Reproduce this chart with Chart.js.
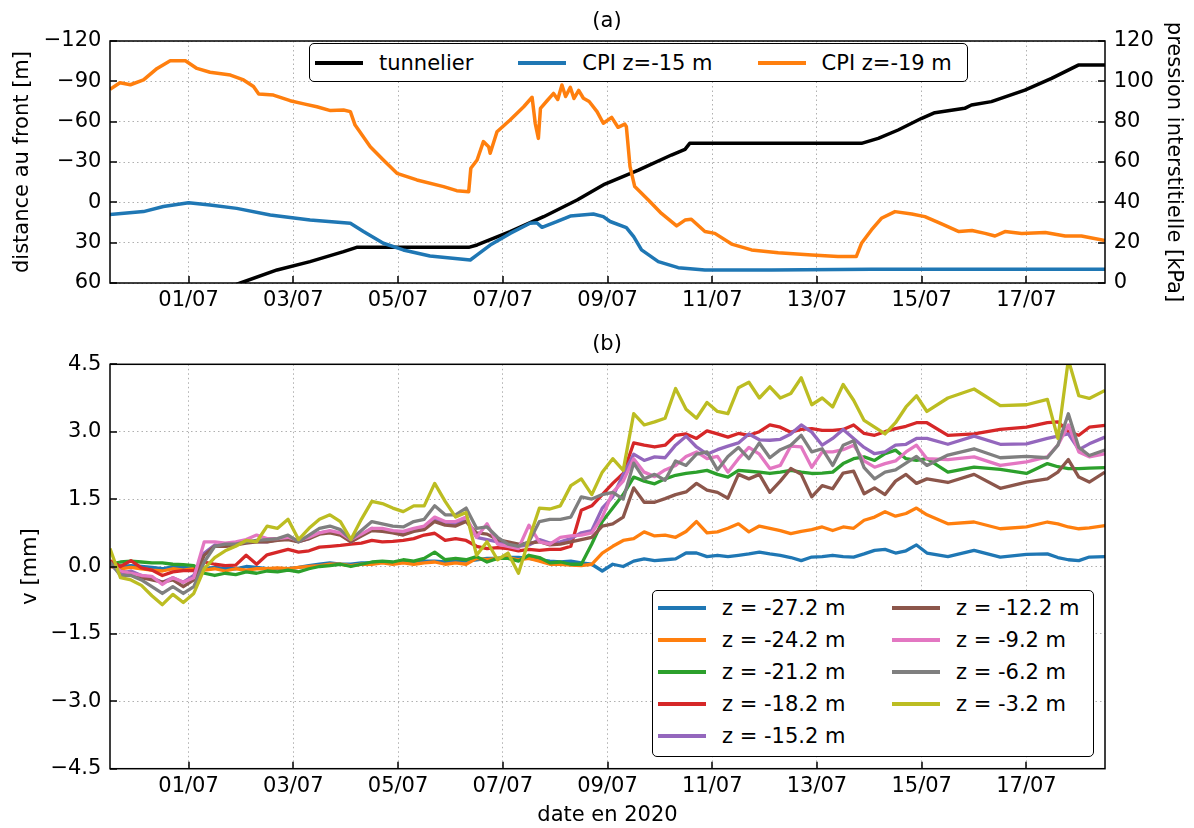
<!DOCTYPE html>
<html lang="fr">
<head>
<meta charset="utf-8">
<title>Tunnelier, CPI et inclinomètre</title>
<script src="https://cdn.jsdelivr.net/npm/chart.js@4.4.0/dist/chart.umd.min.js"></script>
<style>
  body { margin: 0; background: #fff; font-family: "DejaVu Sans", sans-serif; }
  #page { position: relative; width: 1194px; height: 828px; overflow: hidden; }
  canvas { position: absolute; left: 0; }
  #chartA { top: 0; }
  #chartB { top: 330px; }
  .titre { position: absolute; width: 200px; left: 507px; text-align: center; font-size: 21px; line-height: 25px; }
  .leg { position: absolute; background: #fff; border: 1.5px solid #000; border-radius: 5px; box-sizing: border-box; font-size: 21px; color: #000; }
  #legA { left: 309px; top: 43px; width: 659px; height: 39px; display: flex; align-items: center; padding-left: 5px; gap: 45px; }
  #legB { left: 652px; top: 590px; width: 442px; height: 167px; display: grid; grid-template-columns: 234px auto; grid-template-rows: repeat(5, 32px); grid-auto-flow: column; padding: 1px 0 0 5px; }
  .item { display: flex; align-items: center; white-space: nowrap; }
  .trait { display: inline-block; width: 48px; height: 4px; margin-right: 16px; }
</style>
</head>
<body>
<div id="page">
  <canvas id="chartA" width="1194" height="330"></canvas>
  <canvas id="chartB" width="1194" height="498"></canvas>
  <div class="titre" style="top:8px">(a)</div>
  <div class="titre" style="top:331px">(b)</div>
  <div class="leg" id="legA"></div>
  <div class="leg" id="legB"></div>
</div>
<script>
// jours comptés depuis le 01/07/2020 00:00
const dateTicks = [0, 2, 4, 6, 8, 10, 12, 14, 16];
const dateLabels = ["01/07", "03/07", "05/07", "07/07", "09/07", "11/07", "13/07", "15/07", "17/07"];

// ================= (a) tunnelier + CPI
const tTunnel = [0.5, 0.99, 1.69, 2.32, 2.96, 3.21, 5.35, 5.51, 6.14, 6.78, 7.42, 7.95, 8.59, 9.22, 9.48, 9.57, 12.85, 13.17, 13.55, 14.0, 14.25, 14.82, 14.95, 15.33, 15.97, 16.48, 16.99, 17.5];
const distTunnel = [67, 60, 50.3, 44.1, 36.7, 33.5, 33.5, 31.7, 21.8, 10.7, -1.7, -13.6, -24.0, -35.2, -39.4, -43.9, -43.9, -47.6, -53.8, -62.5, -66.7, -69.9, -72.4, -74.9, -83.5, -92.2, -102.1, -102.1];

const tCpi15 = [-1.5, -0.86, -0.48, 0, 0.41, 0.92, 1.56, 2.32, 3.09, 3.34, 3.72, 4.1, 4.61, 5.38, 5.51, 5.76, 6.14, 6.52, 6.65, 6.75, 7.03, 7.29, 7.73, 7.92, 8.05, 8.36, 8.5, 8.65, 8.97, 9.35, 9.86, 11.13, 13.04, 17.5];
const cpi15 = [34.0, 35.4, 37.9, 39.8, 38.7, 37.0, 33.7, 31.2, 29.6, 25.5, 19.7, 16.4, 13.4, 11.4, 13.9, 18.8, 24.6, 29.6, 29.9, 27.6, 30.4, 33.2, 34.2, 32.9, 30.5, 27.5, 23.0, 16.4, 10.6, 7.6, 6.4, 6.4, 6.8, 6.8];

const tCpi19 = [-1.5, -1.31, -1.11, -0.86, -0.6, -0.35, -0.06, 0.16, 0.41, 0.8, 1.05, 1.24, 1.34, 1.62, 1.94, 2.2, 2.45, 2.71, 2.96, 3.09, 3.18, 3.47, 3.72, 3.98, 4.36, 4.87, 5.12, 5.35, 5.39, 5.51, 5.63, 5.73, 5.76, 5.89, 6.14, 6.4, 6.56, 6.62, 6.68, 6.72, 6.85, 6.97, 7.05, 7.13, 7.2, 7.29, 7.36, 7.45, 7.54, 7.65, 7.8, 7.92, 8.08, 8.2, 8.33, 8.36, 8.43, 8.52, 8.78, 9.03, 9.32, 9.48, 9.6, 9.86, 10.05, 10.37, 10.75, 11.26, 11.9, 12.4, 12.75, 12.85, 13.04, 13.23, 13.49, 13.81, 14.06, 14.38, 14.71, 14.96, 15.21, 15.4, 15.59, 15.91, 16.36, 16.74, 17.05, 17.5];
const cpi19 = [96.0, 99.3, 98.3, 100.7, 106.4, 110.2, 110.2, 106.4, 104.5, 103.1, 100.7, 97.4, 93.7, 93.2, 90.4, 88.8, 87.4, 85.5, 85.8, 85.0, 78.3, 67.6, 61.0, 54.4, 51.1, 47.8, 45.8, 45.3, 56.9, 61.0, 70.1, 67.6, 64.3, 75.0, 80.8, 87.4, 92.1, 79.2, 71.7, 86.6, 90.5, 94.0, 91.0, 98.2, 92.5, 97.0, 91.5, 95.5, 91.6, 90.0, 85.0, 79.2, 82.1, 77.2, 78.8, 77.5, 57.7, 47.8, 41.2, 34.5, 28.3, 31.2, 31.6, 25.5, 24.6, 19.3, 16.4, 15.0, 13.9, 13.1, 13.1, 19.7, 26.3, 32.1, 35.4, 34.2, 32.9, 29.3, 25.5, 26.0, 24.6, 23.3, 25.5, 24.6, 25.0, 23.3, 23.3, 21.0];

const labelsA = ["tunnelier", "CPI z=-15 m", "CPI z=-19 m"];
const colorsA = ["#000000", "#1f77b4", "#ff7f0e"];

// ================= (b) inclinomètre
const tIncl = [-1.5, -1.3, -1.1, -0.9, -0.7, -0.5, -0.3, -0.1, 0.1, 0.3, 0.5, 0.7, 0.9, 1.1, 1.3, 1.5, 1.7, 1.9, 2.1, 2.3, 2.5, 2.7, 2.9, 3.1, 3.3, 3.5, 3.7, 3.9, 4.1, 4.3, 4.5, 4.7, 4.9, 5.1, 5.3, 5.5, 5.7, 5.9, 6.1, 6.3, 6.5, 6.7, 6.9, 7.1, 7.3, 7.5, 7.7, 7.9,
  8.1, 8.3, 8.5, 8.7, 8.9, 9.1, 9.3, 9.5, 9.7, 9.9, 10.1, 10.3, 10.5, 10.7, 10.9, 11.1, 11.3, 11.5, 11.7, 11.9, 12.1, 12.3, 12.5, 12.7, 12.9, 13.1, 13.3, 13.5, 13.7, 13.9, 14.1,
  14.5, 15.0, 15.5, 16.0, 16.4, 16.6, 16.8, 17.0, 17.2, 17.5];

const vZ272 = [0.05, 0.00, 0.02, 0.00, -0.02, -0.05, 0.00, -0.02, -0.05, -0.05, -0.02, -0.05, -0.05, 0.00, -0.02, -0.05, -0.05, -0.05, -0.02, 0.02, 0.05, 0.08, 0.05, 0.05, 0.08, 0.08, 0.10, 0.08, 0.10, 0.10, 0.12, 0.12, 0.10, 0.12, 0.12, 0.15, 0.18, 0.18, 0.20, 0.20, 0.18, 0.15, 0.12, 0.10, 0.12, 0.08, 0.05, -0.10,
  0.05, 0.00, 0.12, 0.17, 0.13, 0.15, 0.17, 0.30, 0.30, 0.22, 0.25, 0.22, 0.25, 0.28, 0.32, 0.28, 0.25, 0.20, 0.13, 0.21, 0.22, 0.25, 0.22, 0.21, 0.28, 0.36, 0.38, 0.30, 0.35, 0.48, 0.30,
  0.22, 0.36, 0.21, 0.27, 0.28, 0.20, 0.15, 0.13, 0.21, 0.22];
const vZ242 = [0.00, -0.05, -0.02, -0.05, -0.08, -0.10, -0.05, -0.08, -0.05, -0.08, -0.05, -0.10, -0.05, -0.08, -0.05, -0.05, -0.03, -0.05, -0.02, 0.00, 0.02, 0.05, 0.05, 0.02, 0.05, 0.05, 0.08, 0.05, 0.08, 0.05, 0.08, 0.10, 0.05, 0.08, 0.05, 0.18, 0.15, 0.18, 0.20, 0.15, 0.18, 0.12, 0.05, 0.05, 0.03, 0.02, 0.05, 0.30,
  0.45, 0.58, 0.62, 0.77, 0.68, 0.70, 0.65, 0.78, 1.00, 0.75, 0.77, 0.85, 0.95, 0.77, 0.90, 0.85, 0.80, 0.73, 0.78, 0.82, 0.88, 0.80, 0.88, 0.85, 1.03, 1.10, 1.22, 1.12, 1.18, 1.30, 1.15,
  0.95, 0.99, 0.84, 0.88, 0.99, 0.95, 0.88, 0.84, 0.86, 0.91];
const vZ212 = [0.05, 0.10, 0.12, 0.10, 0.08, 0.08, 0.05, 0.04, 0.02, -0.15, -0.20, -0.15, -0.18, -0.12, -0.15, -0.10, -0.12, -0.08, -0.12, -0.05, 0.00, 0.02, 0.05, 0.00, 0.05, 0.10, 0.12, 0.10, 0.15, 0.12, 0.18, 0.32, 0.15, 0.18, 0.15, 0.22, 0.10, 0.18, 0.18, 0.12, 0.25, 0.20, 0.08, 0.10, 0.05, 0.05, 0.50, 1.00,
  1.30, 1.60, 1.99, 1.90, 1.84, 1.95, 2.03, 2.07, 2.10, 2.14, 2.05, 1.99, 2.14, 2.12, 2.10, 2.07, 2.10, 2.14, 2.10, 2.07, 2.08, 2.10, 2.29, 2.40, 2.44, 2.36, 2.51, 2.59, 2.40, 2.36, 2.40,
  2.10, 2.21, 2.16, 2.07, 2.29, 2.22, 2.18, 2.18, 2.19, 2.20];
const vZ182 = [0.13, 0.00, 0.13, -0.03, -0.08, -0.20, -0.12, -0.09, -0.09, 0.10, 0.05, 0.02, 0.03, 0.25, 0.05, 0.26, 0.32, 0.38, 0.32, 0.35, 0.43, 0.45, 0.47, 0.50, 0.52, 0.58, 0.55, 0.56, 0.58, 0.62, 0.70, 0.74, 0.58, 0.62, 0.58, 0.45, 0.40, 0.42, 0.40, 0.35, 0.38, 0.36, 0.38, 0.38, 0.45, 1.25, 1.35, 1.60,
  1.85, 2.07, 2.75, 2.70, 2.66, 2.70, 2.92, 2.95, 2.85, 3.02, 2.95, 2.88, 2.96, 2.92, 3.00, 3.15, 3.10, 2.99, 3.05, 3.07, 3.03, 3.03, 3.05, 3.15, 2.96, 2.92, 3.00, 3.07, 3.12, 3.20, 3.20,
  2.92, 2.95, 3.05, 3.10, 3.20, 3.22, 3.00, 2.92, 3.10, 3.14];
const vZ152 = [0.05, -0.15, -0.10, -0.20, -0.25, -0.35, -0.25, -0.35, -0.20, 0.30, 0.48, 0.45, 0.50, 0.55, 0.55, 0.55, 0.60, 0.62, 0.55, 0.62, 0.75, 0.78, 0.72, 0.55, 0.70, 0.85, 0.80, 0.78, 0.72, 0.80, 0.85, 1.05, 0.95, 0.95, 1.05, 0.65, 0.60, 0.55, 0.50, 0.45, 0.48, 0.60, 0.52, 0.55, 0.62, 0.75, 0.80, 1.30,
  1.55, 2.05, 2.50, 2.36, 2.44, 2.42, 2.70, 2.90, 2.66, 2.50, 2.60, 2.68, 2.75, 2.95, 2.82, 2.81, 2.83, 2.95, 3.15, 2.99, 2.70, 2.85, 3.05, 2.85, 2.65, 2.51, 2.55, 2.70, 2.72, 2.85, 2.85,
  2.72, 2.90, 2.72, 2.73, 2.85, 2.90, 2.95, 2.60, 2.73, 2.88];
const vZ122 = [0.05, -0.10, -0.15, -0.25, -0.30, -0.35, -0.30, -0.45, -0.30, 0.25, 0.45, 0.45, 0.48, 0.52, 0.55, 0.55, 0.58, 0.60, 0.55, 0.62, 0.72, 0.75, 0.70, 0.55, 0.68, 0.80, 0.78, 0.75, 0.70, 0.78, 0.82, 1.00, 0.92, 0.90, 1.00, 0.75, 0.72, 0.60, 0.55, 0.50, 0.52, 0.55, 0.48, 0.50, 0.55, 0.60, 0.65, 0.90,
  0.95, 1.10, 1.75, 1.43, 1.43, 1.51, 1.60, 1.66, 1.85, 1.70, 1.65, 1.52, 2.05, 1.95, 2.05, 1.65, 1.90, 2.18, 2.05, 1.55, 1.80, 1.73, 2.08, 2.12, 1.62, 1.75, 1.60, 1.90, 2.05, 1.85, 1.95,
  1.87, 2.05, 1.74, 1.88, 1.95, 2.10, 2.38, 1.99, 1.88, 2.10];
const vZ92 = [0.05, -0.10, -0.15, -0.20, -0.22, -0.40, -0.25, -0.35, -0.25, 0.55, 0.55, 0.52, 0.55, 0.60, 0.70, 0.62, 0.62, 0.65, 0.58, 0.65, 0.75, 0.80, 0.75, 0.60, 0.72, 0.85, 0.85, 0.80, 0.78, 0.85, 0.90, 1.10, 1.00, 1.00, 1.10, 0.65, 0.95, 0.50, 0.45, 0.40, 0.92, 0.55, 0.50, 0.65, 0.68, 0.70, 0.75, 1.10,
  1.65, 1.90, 2.40, 2.10, 2.00, 2.15, 2.25, 2.45, 2.55, 2.40, 2.45, 2.10, 2.40, 2.65, 2.50, 2.18, 2.25, 2.68, 2.66, 2.21, 2.55, 2.55, 2.60, 2.70, 2.35, 2.21, 2.29, 2.35, 2.55, 2.70, 2.40,
  2.38, 2.44, 2.25, 2.33, 2.44, 2.70, 3.15, 2.55, 2.44, 2.51];
const vZ62 = [0.10, -0.20, -0.20, -0.30, -0.45, -0.60, -0.45, -0.60, -0.45, 0.10, 0.45, 0.50, 0.50, 0.55, 0.58, 0.60, 0.62, 0.70, 0.55, 0.70, 0.85, 0.90, 0.82, 0.60, 0.80, 1.00, 0.95, 0.90, 0.88, 1.00, 1.05, 1.35, 1.15, 1.15, 1.30, 0.85, 0.88, 0.65, 0.50, 0.45, 0.55, 1.00, 1.05, 1.05, 1.10, 1.55, 1.50, 1.60,
  1.65, 1.50, 2.30, 1.95, 2.05, 1.92, 2.35, 2.25, 2.50, 2.55, 2.15, 2.45, 2.65, 2.40, 2.75, 2.42, 2.60, 2.70, 2.92, 2.55, 2.62, 2.25, 2.70, 2.80, 2.20, 1.95, 2.10, 2.15, 2.30, 2.45, 2.25,
  2.48, 2.62, 2.42, 2.45, 2.42, 2.70, 3.40, 2.65, 2.47, 2.59];
const vZ32 = [0.40, -0.25, -0.30, -0.42, -0.65, -0.85, -0.62, -0.80, -0.60, -0.05, 0.20, 0.35, 0.45, 0.58, 0.55, 0.90, 0.85, 1.05, 0.60, 0.85, 1.05, 1.15, 1.00, 0.60, 1.05, 1.45, 1.40, 1.30, 1.22, 1.35, 1.35, 1.85, 1.45, 1.10, 1.20, 0.25, 0.55, 0.15, 0.30, -0.15, 0.60, 1.30, 1.28, 1.35, 1.80, 1.95, 1.60, 2.10,
  2.40, 2.14, 3.40, 3.15, 3.22, 3.30, 3.96, 3.50, 3.30, 3.65, 3.45, 3.40, 3.98, 4.10, 3.75, 4.00, 3.75, 3.85, 4.20, 3.60, 3.75, 3.55, 4.05, 3.70, 3.25, 3.10, 2.95, 3.20, 3.55, 3.80, 3.45,
  3.75, 3.95, 3.58, 3.60, 3.72, 2.85, 4.60, 3.80, 3.74, 3.92];

const labelsB = ["z = -27.2 m", "z = -24.2 m", "z = -21.2 m", "z = -18.2 m", "z = -15.2 m", "z = -12.2 m", "z = -9.2 m", "z = -6.2 m", "z = -3.2 m"];
const colorsB = ["#1f77b4", "#ff7f0e", "#2ca02c", "#d62728", "#9467bd", "#8c564b", "#e377c2", "#7f7f7f", "#bcbd22"];
const seriesB = [vZ272, vZ242, vZ212, vZ182, vZ152, vZ122, vZ92, vZ62, vZ32];

Chart.defaults.font.family = "'DejaVu Sans', sans-serif";
Chart.defaults.font.size = 21;
Chart.defaults.color = "#000";

const moins = (s) => String(s).replace("-", "\u2212");
const pts = (t, v) => t.map((x, i) => ({ x: x, y: v[i] }));

// cadre noir + graduations vers l'intérieur
const cadre = {
  id: "cadre",
  afterDraw(chart) {
    const { ctx, chartArea: a } = chart;
    ctx.save();
    ctx.strokeStyle = "#000";
    ctx.lineWidth = 1.5;
    ctx.beginPath();
    Object.values(chart.scales).forEach((s) => {
      s.ticks.forEach((t) => {
        const p = Math.round(s.getPixelForValue(t.value));
        if (s.axis === "x") {
          ctx.moveTo(p, a.bottom);
          ctx.lineTo(p, a.bottom - 7);
        } else if (s.position === "left") {
          ctx.moveTo(a.left, p);
          ctx.lineTo(a.left + 7, p);
        } else {
          ctx.moveTo(a.right, p);
          ctx.lineTo(a.right - 7, p);
        }
      });
    });
    ctx.stroke();
    ctx.strokeRect(a.left, a.top, a.right - a.left, a.bottom - a.top);
    ctx.restore();
  },
};

function axeDates(hauteur, titre) {
  return {
    type: "linear",
    min: -1.5,
    max: 17.5,
    afterBuildTicks: (axis) => {
      axis.ticks = dateTicks.map((v) => ({ value: v }));
    },
    afterFit: (s) => {
      s.height = hauteur;
    },
    ticks: {
      autoSkip: false,
      maxRotation: 0,
      padding: 5,
      callback: (v) => dateLabels[dateTicks.indexOf(v)],
    },
    grid: { color: "#b0b0b0", lineWidth: 1, drawTicks: false },
    border: { display: false, dash: [1.5, 3] },
    title: titre
      ? { display: true, text: titre, padding: { top: 0, bottom: 0 } }
      : { display: false },
  };
}

const ligne = { borderWidth: 3.5, pointRadius: 0, tension: 0, borderJoinStyle: "round", clip: 0 };

new Chart(document.getElementById("chartA"), {
  type: "line",
  data: {
    datasets: [
      { ...ligne, label: labelsA[0], data: pts(tTunnel, distTunnel), borderColor: colorsA[0], yAxisID: "y", order: 2 },
      { ...ligne, label: labelsA[1], data: pts(tCpi15, cpi15), borderColor: colorsA[1], yAxisID: "y1", order: 1 },
      { ...ligne, label: labelsA[2], data: pts(tCpi19, cpi19), borderColor: colorsA[2], yAxisID: "y1", order: 0 },
    ],
  },
  options: {
    responsive: false,
    animation: false,
    events: [],
    layout: { padding: { top: 41, left: 0, right: 0, bottom: 0 } },
    plugins: { legend: { display: false }, tooltip: { enabled: false } },
    scales: {
      x: axeDates(47, null),
      y: {
        position: "left",
        reverse: true,
        min: -120,
        max: 60,
        afterFit: (s) => {
          s.width = 110;
        },
        ticks: { stepSize: 30, padding: 8.6, callback: (v) => moins(v) },
        grid: { color: "#b0b0b0", lineWidth: 1, drawTicks: false },
        border: { display: false, dash: [1.5, 3] },
        title: { display: true, text: "distance au front [m]", padding: { top: 10, bottom: 0 } },
      },
      y1: {
        position: "right",
        min: 0,
        max: 120,
        afterFit: (s) => {
          s.width = 89;
        },
        ticks: { stepSize: 20, padding: 8.7 },
        grid: { drawOnChartArea: false, drawTicks: false },
        border: { display: false },
        title: { display: true, text: "pression interstitielle [kPa]", padding: { top: 7.5, bottom: 0 } },
      },
    },
  },
  plugins: [cadre],
});

new Chart(document.getElementById("chartB"), {
  type: "line",
  data: {
    datasets: seriesB.map((v, i) => ({
      ...ligne,
      borderWidth: 3.3,
      label: labelsB[i],
      data: pts(tIncl, v),
      borderColor: colorsB[i],
      order: seriesB.length - 1 - i,
    })),
  },
  options: {
    responsive: false,
    animation: false,
    events: [],
    layout: { padding: { top: 34.3, left: 0, right: 89, bottom: 0 } },
    plugins: { legend: { display: false }, tooltip: { enabled: false } },
    scales: {
      x: axeDates(59.3, "date en 2020"),
      y: {
        position: "left",
        min: -4.5,
        max: 4.5,
        afterFit: (s) => {
          s.width = 110;
        },
        ticks: { stepSize: 1.5, padding: 8.6, callback: (v) => moins(v.toFixed(1)) },
        grid: { color: "#b0b0b0", lineWidth: 1, drawTicks: false },
        border: { display: false, dash: [1.5, 3] },
        title: { display: true, text: "v [mm]", padding: { top: 18, bottom: 0 } },
      },
    },
  },
  plugins: [cadre],
});

// ================= LÉGENDES
function legende(el, labels, colors) {
  labels.forEach((lab, i) => {
    const item = document.createElement("div");
    item.className = "item";
    const trait = document.createElement("span");
    trait.className = "trait";
    trait.style.background = colors[i];
    const txt = document.createElement("span");
    txt.textContent = lab;
    item.appendChild(trait);
    item.appendChild(txt);
    el.appendChild(item);
  });
}
legende(document.getElementById("legA"), labelsA, colorsA);
legende(document.getElementById("legB"), labelsB, colorsB);
</script>
</body>
</html>
